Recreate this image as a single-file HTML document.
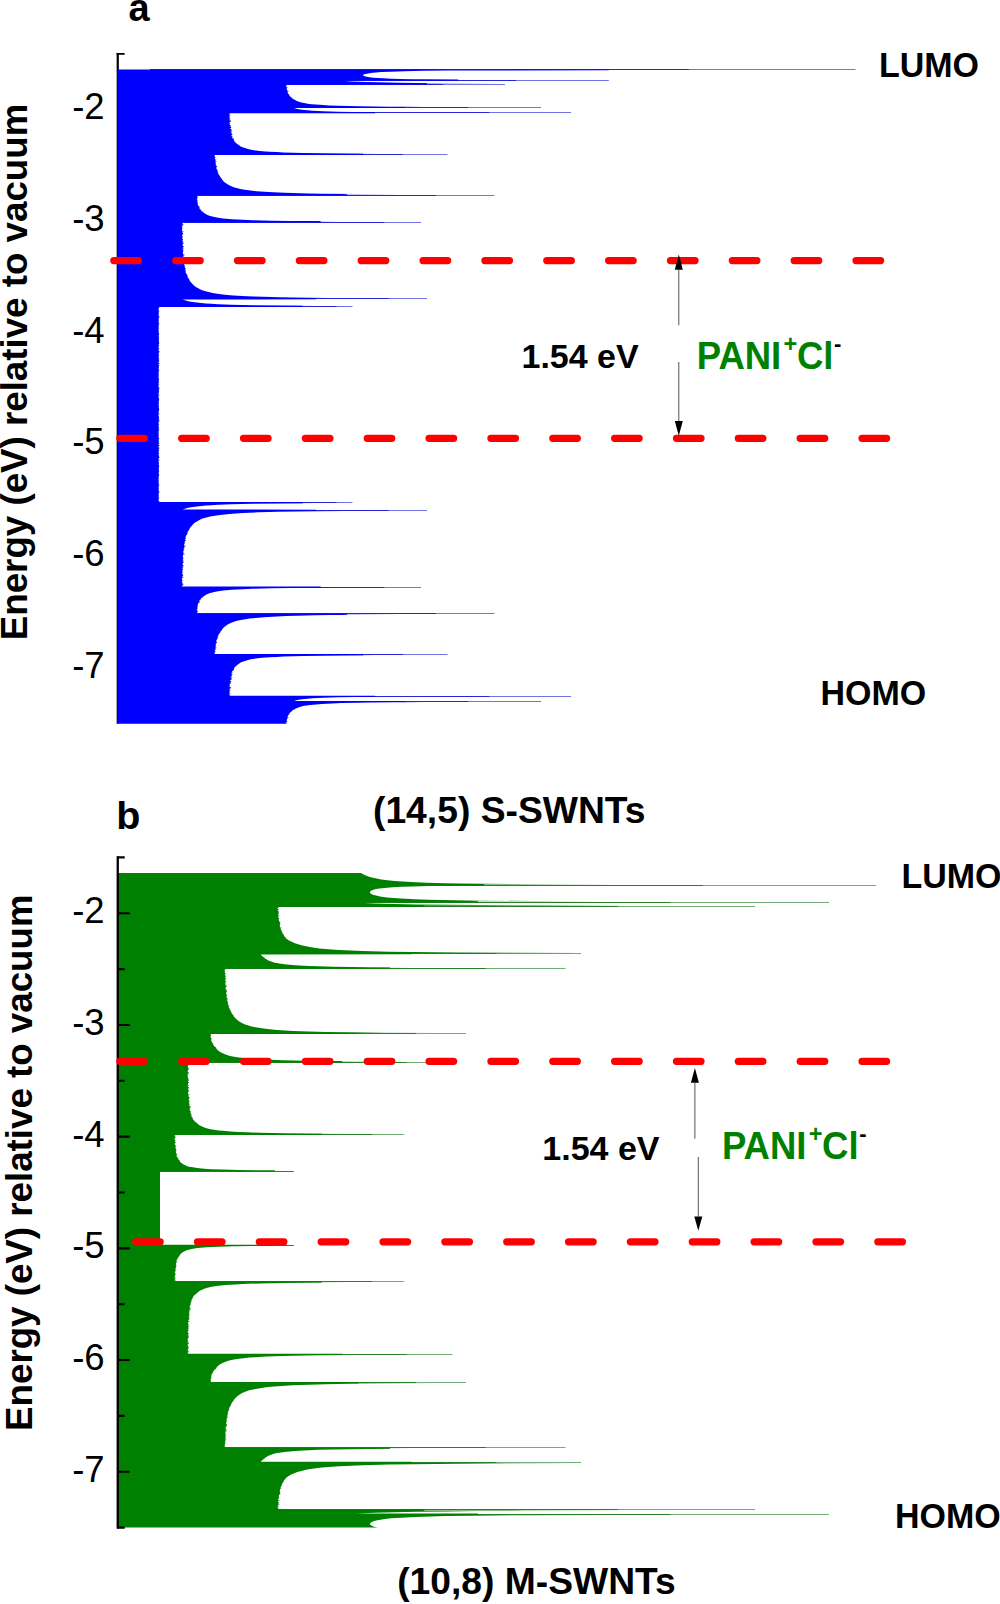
<!DOCTYPE html>
<html lang="en"><head><meta charset="utf-8"><title>DOS of SWNTs vs PANI levels</title>
<style>html,body{margin:0;padding:0;background:#fff}body{width:1000px;height:1604px;overflow:hidden}svg{display:block}</style></head>
<body>
<svg width="1000" height="1604" viewBox="0 0 1000 1604">
<rect width="1000" height="1604" fill="#fff"/>
<g id="panel-a">
<path d="M117.75 53V723.8" stroke="#000" stroke-width="2.2" fill="none"/>
<path d="M116.65 53.9H124.6" stroke="#000" stroke-width="1.8" fill="none"/>
<path d="M150 306.5H336.8M150 502.5H336.8M150 298.5H388.9M150 510.5H388.9M150 222.5H384.7M150 587.5H384.7M150 195.5H436.1M150 613.5H436.1M150 154.5H403.2M150 654.5H403.2M150 112.5H489.7M150 696.5H489.7M150 107.5H468.7M150 701.5H468.7M150 84.5H443.5M150 80.5H516.2M150 69.5H688.9" stroke="#0000d0" stroke-width="1" stroke-opacity="0.85" fill="none"/><path d="M336.8 306.5H352.5M336.8 502.5H352.5M388.9 298.5H427.0M388.9 510.5H427.0M384.7 222.5H421.0M384.7 587.5H421.0M436.1 195.5H494.5M436.1 613.5H494.5M403.2 154.5H447.5M403.2 654.5H447.5M489.7 112.5H571.0M489.7 696.5H571.0M468.7 107.5H541.0M468.7 701.5H541.0M443.5 84.5H505.0M516.2 80.5H608.8M688.9 69.5H855.5" stroke="#0000d0" stroke-width="1" stroke-opacity="0.55" fill="none"/>
<path d="M117.30 69.40L608.8 69.4L608.8 70.24L477.91 70.44L446.52 70.6L424.06 70.84L404.83 71.2L390.77 71.64L381.17 72.12L376.17 72.48L372.53 72.84L368.09 73.44L365.35 74L364.41 74.28L363.66 74.6L363.23 74.92L363.12 75.08L363.09 75.28L363.27 75.6L363.76 75.92L364.82 76.32L365.68 76.56L369.38 77.24L373.17 77.68L378.11 78.08L383.05 78.36L391.89 78.72L400.34 78.96L412.09 79.2L424 79.36L458.65 79.6L457.47 80.76L341 80.8L352.37 81.44L366.03 81.96L379.42 82.32L398.54 82.68L415.91 82.92L445.08 83.2L505 83.52L421.16 83.56L426.88 83.6L426.88 84.76L286.02 84.8L286.04 84.96L286.1 85L286.17 85.48L286.73 85.52L286.79 85.96L286.16 86L286.24 86.48L286.34 86.52L286.41 86.96L287.37 87L287.45 87.48L286.75 87.52L286.84 87.96L286.69 88L286.87 88.96L286.83 89L287.09 89.96L287.61 90L287.74 90.48L287.17 90.52L287.28 90.96L288.65 91L288.76 91.48L287.43 91.52L287.69 92.48L287.87 92.96L287.99 93L288.17 93.48L288.11 93.52L288.3 93.96L289.17 94L289.38 94.48L288.59 94.52L288.82 94.96L289.25 95L289.53 95.48L289.27 95.52L289.6 95.96L290.06 96L290.45 96.48L289.94 96.52L290.38 96.96L290.8 97L291.32 97.48L291.62 97.52L292.16 97.96L291.85 98L293.07 98.96L293.23 99L293.93 99.48L294.37 99.52L295.06 99.96L294.99 100L295.07 100.04L296.85 100.96L296.78 101L297.59 101.32L299.83 102.04L302.39 102.72L304.18 103.12L307.64 103.72L311.5 104.2L315.88 104.6L323.2 105.12L329.42 105.44L338.8 105.8L359.62 106.28L388.77 106.64L423.08 106.84L405.07 106.88L405.07 108.08L294.06 108.12L295.66 108.56L297.28 108.92L302.08 109.72L307.47 110.32L312.65 110.72L323.26 111.24L337.51 111.64L353.55 111.88L375.09 112.04L375.09 113.24L229.16 113.28L229.16 113.48L230.15 113.52L230.17 113.96L229.89 114L229.9 114.48L229.08 114.52L229.1 114.96L230.54 115L230.56 115.48L229.4 115.52L229.43 116.48L229.57 117.48L230.04 117.52L230.06 117.96L229.4 118L229.43 118.48L230.13 118.52L230.16 118.96L229.34 119L229.38 119.48L230.18 119.52L230.22 119.96L229.64 120L229.68 120.48L230.77 120.52L230.79 120.96L230.5 121L230.53 121.48L230.97 121.52L230.99 121.96L229.54 122L229.63 123.48L230.2 123.52L230.24 123.96L229.68 124L229.75 124.96L231.12 125L231.15 125.48L229.9 125.52L229.94 125.96L230.75 126L230.79 126.48L230.25 126.52L230.3 126.96L231.29 127L231.34 127.48L231.02 127.52L231.07 127.96L230.25 128L230.39 128.96L231.52 129L231.58 129.48L231.15 129.52L231.22 129.96L231.13 130L231.21 130.48L231.81 130.52L231.88 130.96L230.54 131L230.63 131.48L232.08 131.52L232.16 131.96L230.75 132L230.86 132.48L231.81 132.52L231.91 132.96L231.18 133L231.27 133.48L232.02 133.52L232.1 133.96L232.31 134L232.45 134.96L231.37 135L231.79 136.48L232.56 136.52L232.68 136.96L232.01 137L232.16 137.48L232.25 137.52L232.68 138.48L233.65 138.52L233.82 138.96L233.57 139L233.67 139.24L234.1 139.96L234.22 140L234.51 140.48L233.75 140.52L234.07 140.96L234.02 141L234.42 141.48L234.59 141.52L234.99 141.96L234.83 142L234.99 142.16L235.33 142.48L235.72 142.52L236.22 142.96L236.14 143L237.06 143.96L237.2 144L237.77 144.48L238.18 144.52L238.73 144.96L238.67 145L239.37 145.48L239.23 145.52L239.92 145.96L239.91 146L241.21 146.68L243.36 147.56L247.33 148.84L249.81 149.44L252.56 149.96L255.85 150.44L259.78 150.88L265.47 151.4L269.83 151.72L276.94 152.12L283.3 152.4L302.79 152.96L324.27 153.32L347.51 153.56L377.63 153.72L357.39 153.76L363.11 153.8L363.11 154.96L214.49 155L214.53 155.48L214.73 155.52L214.77 155.96L214.5 156L214.55 156.48L215.1 156.52L215.15 156.96L215.73 157L215.78 157.48L214.72 157.52L214.79 158.48L215.08 158.52L215.13 158.96L214.84 159L214.9 159.48L216.23 159.52L216.28 159.96L215.18 160L215.25 160.48L216.08 160.52L216.14 160.96L216.42 161L216.47 161.48L215.26 161.52L215.31 161.96L215.41 162L215.47 162.48L216.11 162.52L216.17 162.96L215.84 163L215.91 163.48L215.45 163.52L215.51 163.96L215.68 164L215.75 164.48L216.13 164.52L216.19 164.96L215.69 165L215.77 165.48L216.36 165.52L216.43 165.96L217.07 166L217.15 166.48L216.62 166.52L216.7 166.96L216.08 167L216.17 167.48L216.73 167.52L216.82 167.96L216.45 168L216.55 168.48L216.34 168.52L216.44 168.96L216.64 169L216.75 169.48L217.14 169.52L217.25 169.96L217.12 170L217.24 170.48L217.87 170.52L217.98 170.96L217.06 171L217.22 171.48L218.17 171.52L218.31 171.96L217.66 172L217.84 172.48L218.06 172.52L218.23 172.96L217.8 173L218.02 173.48L218.58 173.52L218.78 173.96L218.36 174L218.61 174.48L218.73 174.52L218.96 174.96L219.14 175L219.42 175.48L219.61 175.52L220.24 176.48L219.99 176.52L220.36 177L220.92 177.96L221.19 178L221.49 178.48L221.42 178.52L222.09 179.48L221.95 179.52L222.32 179.96L222.53 180L222.95 180.48L222.89 180.52L223.33 180.96L223.27 181L223.7 181.44L224.91 182.48L225.03 182.52L226.71 183.8L227.93 184.52L230.83 186.04L233.57 187.16L236.67 188.12L240.3 188.96L244.69 189.72L250.57 190.56L256.55 191.2L264.41 191.84L273.37 192.36L284.4 192.84L292.63 193.12L308.79 193.52L321.64 193.76L356.75 194.12L401.26 194.32L341.56 194.36L347.29 194.4L347.29 195.56L197.58 195.6L197.61 195.96L197.19 196L197.23 196.48L197.45 196.52L197.49 196.96L197.75 197L197.8 197.48L197.52 197.52L197.57 197.96L197.15 198L197.26 198.96L196.76 199L196.84 199.48L197.3 199.52L197.37 199.96L198.01 200L198.09 200.48L196.89 200.52L196.97 200.96L197.42 201L197.51 201.48L197.16 201.52L197.25 201.96L197.36 202L197.48 202.48L198.13 202.52L198.24 202.96L197.49 203L197.74 203.96L197.69 204L197.81 204.48L198.06 204.52L198.18 204.96L197.94 205L198.07 205.48L198.29 205.52L198.43 205.96L198.7 206L198.86 206.48L199.61 206.52L199.99 207.48L198.89 207.52L199.09 207.96L199.05 208L199.28 208.48L199.99 208.52L200.23 208.96L199.78 209L200.11 209.48L201.07 209.52L201.38 209.96L200.68 210L201.1 210.48L200.92 210.52L201.98 211.48L202.69 211.52L203.18 211.92L203.23 211.96L202.64 212L203.19 212.48L203.57 212.52L204.1 213L204.97 213.6L206.5 214.48L207.47 214.96L209.37 215.72L212.32 216.6L214.36 217.12L216.74 217.6L219.79 218.08L223.13 218.48L232.06 219.24L242.95 219.84L252.8 220.2L271.76 220.64L291.78 220.92L314.5 221.12L339.42 221.24L320.63 221.28L320.63 222.48L181.77 222.52L181.78 222.96L182.59 223L182.53 223.96L182.69 224L182.7 224.48L183.42 224.52L183.43 224.96L183.24 225L183.25 225.48L181.82 225.52L181.83 225.96L182.54 226L182.55 226.48L181.98 226.52L181.99 226.96L181.83 227L181.84 227.48L182.09 227.52L182.09 227.96L182.87 228L182.88 228.48L182.09 228.52L182.1 228.96L182 229L182.01 229.48L181.91 229.52L181.92 229.96L182.02 230L182.03 230.48L182.26 230.52L182.28 230.96L182.12 231L182.13 231.48L183.56 231.52L183.58 231.96L182.07 232L182.08 232.48L182.96 232.52L183.02 233.48L183.12 233.52L183.13 233.96L182.29 234L182.31 234.48L183.05 234.52L183.07 234.96L182.06 235L182.07 235.48L182.43 235.52L182.45 235.96L182.77 236L182.79 236.48L182.17 236.52L182.19 236.96L182.83 237L182.85 237.48L182.16 237.52L182.18 237.96L182.36 238L182.36 238.96L182.91 239L182.94 239.48L182.8 239.52L182.82 239.96L182.45 240L182.46 240.48L182.56 240.52L182.58 240.96L183.18 241L183.19 241.48L182.54 241.52L182.55 241.96L182.35 242L182.36 242.48L183.74 242.52L183.75 242.96L183.63 243L183.65 243.48L182.84 243.52L182.85 243.96L182.58 244L182.6 244.48L182.97 244.52L182.99 244.96L182.46 245L182.48 245.48L182.84 245.52L182.86 245.96L183.55 246L183.57 246.48L183.66 246.52L183.68 246.96L182.85 247L182.87 247.48L183.25 247.52L183.27 247.96L182.61 248L182.64 248.48L183.7 248.52L183.72 248.96L183.2 249L183.22 249.48L182.68 249.52L182.71 249.96L183.61 250L183.63 250.48L182.81 250.52L182.84 250.96L183.31 251L183.34 251.48L182.87 251.52L182.9 251.96L182.84 252L182.94 253.48L183.12 253.52L183.15 253.96L182.97 254L183 254.48L184.45 254.52L184.48 254.96L184.27 255L184.31 255.48L183.35 255.52L183.39 255.96L183.25 256L183.29 256.48L183.51 256.52L183.55 256.96L183.23 257L183.46 258.48L183.98 258.52L184.02 258.96L183.55 259L183.61 259.48L184.39 259.52L184.44 259.96L183.57 260L183.63 260.48L183.98 260.52L184.03 261.48L184.97 261.52L185.01 261.96L185.2 262L185.24 262.48L183.93 262.52L183.98 262.96L184.07 263L184.12 263.48L185.35 263.52L185.4 263.96L184.14 264L184.2 264.48L184.14 264.52L184.2 264.96L184.89 265L184.95 265.48L184.27 265.52L184.33 265.96L184.66 266L184.73 266.48L184.82 266.52L184.89 266.96L184.98 267L185.06 267.48L184.6 267.52L184.68 267.96L185.88 268L185.96 268.48L185.46 268.52L185.53 268.96L185.45 269L185.54 269.48L184.91 269.52L185 269.96L186 270L186.09 270.48L185.23 270.52L185.33 270.96L185.79 271L185.9 271.48L185.39 271.52L185.5 271.96L185.63 272L185.94 272.96L186.15 273L186.31 273.48L185.95 273.52L186.1 273.96L186.8 274L186.96 274.48L187.15 274.52L187.31 274.96L186.84 275L187.03 275.48L187.6 275.52L187.78 275.96L186.94 276L187.17 276.48L188.07 276.52L188.27 276.96L187.56 277L188.45 278.48L188.96 278.52L189.24 278.96L188.8 279L189.08 279.48L189.29 279.52L189.53 279.96L189.26 280L189.55 280.48L189.79 280.52L190.06 280.96L189.96 281L190.73 282.16L190.99 282.48L191.15 282.52L191.52 282.96L191.71 283L192.13 283.48L192.08 283.52L192.25 283.72L192.97 284.48L192.87 284.52L194.26 285.76L195.91 286.96L198.68 288.6L200.05 289.32L201.47 289.96L203.01 290.56L204.68 291.12L208.46 292.12L212.72 292.96L219.07 293.96L224.8 294.64L233.31 295.4L242.21 295.96L253.17 296.48L263.16 296.84L280.03 297.28L292.66 297.52L326.1 297.88L378.54 298.12L310.22 298.16L315.94 298.2L315.94 299.36L182.5 299.4L185.81 300.52L188.15 301.16L191.21 301.8L194.82 302.36L198.96 302.84L206.05 303.48L211.35 303.84L218.16 304.2L231.57 304.68L253.02 305.16L282.03 305.52L317.21 305.72L296.97 305.76L302.7 305.8L302.7 306.96L159.3 307L159.3 307.48L159.21 307.52L159.21 307.96L158.53 308L158.53 308.48L158.68 308.52L158.69 309.48L158.61 309.52L158.61 309.96L159.08 310L159.08 310.48L158.5 310.52L158.56 311.48L159.39 311.52L159.39 311.96L158.57 312L158.57 312.48L158.86 312.52L158.86 312.96L159.02 313L159.02 313.48L158.52 313.52L158.5 314L158.5 314.48L158.87 314.52L158.87 314.96L158.75 315L158.75 315.48L158.52 315.52L158.52 315.96L159.38 316L159.38 316.48L159.23 316.52L159.23 316.96L158.64 317L158.64 317.48L159.23 317.52L159.23 317.96L158.8 318L158.8 318.48L159.06 318.52L159.06 318.96L158.54 319L158.55 319.96L158.51 320L158.51 320.48L159.13 320.52L159.13 320.96L158.52 321L158.52 321.96L159.26 322L159.26 322.48L158.57 322.52L158.57 322.96L159.07 323L159.07 323.48L158.69 323.52L158.69 323.96L159.33 324L159.33 324.48L158.82 324.52L158.82 324.96L158.68 325L158.68 325.48L158.51 325.52L158.51 325.96L158.93 326L158.93 326.48L158.53 326.52L158.53 327.96L158.92 328L158.92 328.48L158.51 328.52L158.51 329.48L158.7 329.52L158.58 330.96L158.52 331L158.52 331.48L158.86 331.52L158.86 331.96L158.62 332L158.62 332.48L158.71 332.52L158.71 332.96L159.02 333L159.03 333.96L159.19 334L159.19 334.48L159.02 334.52L159.02 334.96L158.5 335L158.5 335.48L158.88 335.52L158.88 335.96L159.08 336L159.08 336.48L158.52 336.52L158.52 336.96L158.91 337L158.91 337.48L159.23 337.52L159.23 337.96L159.08 338L159.08 338.48L158.57 338.52L158.57 338.96L159.16 339L159.16 339.48L158.91 339.52L158.91 339.96L158.58 340L158.58 340.48L158.99 340.52L158.99 340.96L159.21 341L159.21 341.48L158.97 341.52L158.96 342.96L159.15 343L159.17 343.52L159.17 343.96L159.06 344L159.06 344.48L158.53 344.52L158.53 344.96L159.01 345L159.01 345.48L158.86 345.52L158.86 345.96L158.75 346L158.75 346.48L158.85 346.52L158.85 346.96L158.5 347L158.5 347.48L158.58 347.52L158.58 347.96L159.36 348L159.36 348.48L158.53 348.52L158.53 348.96L158.58 349L158.58 349.48L159.12 349.52L159.12 349.96L158.63 350L158.67 350.96L159.4 351L159.39 351.96L159.04 352L159.11 352.96L158.5 353L158.5 353.48L159.17 353.52L159.17 353.96L158.72 354L158.72 354.48L158.54 354.52L158.54 354.96L159.2 355L159.2 355.48L158.84 355.52L158.84 355.96L158.95 356L158.95 356.48L158.52 356.52L158.5 357.48L158.91 357.52L158.91 357.96L159.38 358L159.38 358.48L158.5 358.52L158.5 358.96L158.81 359L158.81 359.48L159.07 359.52L159.07 359.96L158.92 360L158.92 360.48L159.28 360.52L159.28 360.96L159.27 361.48L158.58 361.52L158.58 361.96L158.67 362L158.67 362.48L158.5 362.52L158.5 362.96L159.39 363L159.32 363.96L158.57 364L158.54 364.52L158.54 364.96L159.03 365L159.03 365.48L159.31 365.52L159.31 365.96L159.06 366L159.06 366.48L158.51 366.52L158.51 366.96L158.97 367L158.97 367.48L158.85 367.52L158.85 367.96L158.6 368L158.6 368.48L158.73 368.52L158.73 368.96L158.84 369L158.84 369.48L158.73 369.52L158.73 369.96L159.09 370L159.09 370.48L159.27 370.52L159.27 370.96L158.53 371L158.6 371.96L158.71 372L158.71 372.48L158.81 372.52L158.81 372.96L158.61 373L158.58 373.96L158.64 374L158.64 374.48L158.78 374.52L158.78 374.96L158.75 375.48L158.5 375.52L158.5 375.96L158.61 376L158.64 376.52L158.64 376.96L158.5 377L158.5 377.48L158.61 377.52L158.61 377.96L158.51 378L158.51 378.48L159.13 378.52L159.13 378.96L158.96 379L159.01 379.96L158.59 380L158.59 380.48L158.88 380.52L158.88 380.96L158.5 381L158.5 381.48L159.24 381.52L159.24 381.96L158.82 382L158.82 382.48L158.68 382.52L158.68 382.96L158.77 383L158.77 383.48L158.5 383.52L158.55 384.48L159.15 384.52L159.15 384.96L158.67 385L158.67 385.48L158.57 385.52L158.58 386.96L159.38 387L159.38 387.48L158.54 387.52L158.54 387.96L159.38 388L159.38 388.48L159.1 388.52L159.1 388.96L158.71 389L158.71 389.48L159.14 389.52L159.14 389.96L158.8 390L158.8 390.48L159.26 390.52L159.26 390.96L158.87 391L158.87 391.48L158.95 391.52L158.95 392.48L158.7 392.52L158.7 392.96L158.54 393L158.54 393.96L158.69 394L158.69 394.48L158.78 394.52L158.78 394.96L159.4 395L159.4 395.48L158.5 395.52L158.5 395.96L158.62 396L158.62 396.48L158.5 396.52L158.5 397.48L158.84 397.52L158.84 397.96L158.92 398L158.92 398.48L159.13 398.52L159.13 398.96L158.96 399L158.96 399.48L159.19 399.52L159.19 399.96L159.09 400L159.09 400.48L158.95 400.52L158.95 400.96L158.62 401L158.62 401.48L158.89 401.52L158.89 401.96L159.01 402L159.01 402.48L158.71 402.52L158.71 402.96L158.8 403L158.8 403.48L158.89 403.52L158.89 403.96L158.51 404L158.51 405L158.89 405.04L158.89 405.48L158.8 405.52L158.8 406L158.71 406.04L158.71 406.48L159.01 406.52L159.01 407L158.89 407.04L158.89 407.48L158.62 407.52L158.62 408L158.95 408.04L158.95 408.48L159.09 408.52L159.09 409L159.19 409.04L159.19 409.48L158.96 409.52L158.96 410L159.13 410.04L159.13 410.48L158.92 410.52L158.92 411L158.84 411.04L158.84 411.48L158.5 411.52L158.5 412.48L158.62 412.52L158.62 413L158.5 413.04L158.5 413.48L159.4 413.52L159.4 414L158.78 414.04L158.78 414.48L158.69 414.52L158.69 415L158.54 415.04L158.54 416L158.7 416.04L158.7 416.48L158.95 416.52L158.95 417.48L158.87 417.52L158.87 418L159.26 418.04L159.26 418.48L158.8 418.52L158.8 419L159.14 419.04L159.14 419.48L158.71 419.52L158.71 420L159.1 420.04L159.1 420.48L159.38 420.52L159.38 421L158.54 421.04L158.54 421.48L159.38 421.52L159.38 422L158.58 422.04L158.57 423.48L158.67 423.52L158.67 424L159.15 424.04L159.15 424.48L158.55 424.52L158.5 425.48L158.77 425.52L158.77 426L158.68 426.04L158.68 426.48L158.82 426.52L158.82 427L159.24 427.04L159.24 427.48L158.5 427.52L158.5 428L158.88 428.04L158.88 428.48L158.59 428.52L158.59 429L159.01 429.04L158.96 430L159.13 430.04L159.13 430.48L158.51 430.52L158.51 431L158.61 431.04L158.61 431.48L158.5 431.52L158.5 432L158.64 432.04L158.64 432.48L158.61 433L158.5 433.04L158.5 433.48L158.75 433.52L158.78 434.04L158.78 434.48L158.64 434.52L158.64 435L158.58 435.04L158.61 436L158.81 436.04L158.81 436.48L158.71 436.52L158.71 437L158.6 437.04L158.53 438L159.27 438.04L159.27 438.48L159.09 438.52L159.09 439L158.73 439.04L158.73 439.48L158.84 439.52L158.84 440L158.73 440.04L158.73 440.48L158.6 440.52L158.6 441L158.85 441.04L158.85 441.48L158.97 441.52L158.97 442L158.51 442.04L158.51 442.48L159.06 442.52L159.06 443L159.31 443.04L159.31 443.48L159.03 443.52L159.03 444L158.54 444.04L158.54 444.48L158.57 445L159.32 445.04L159.39 446L158.5 446.04L158.5 446.48L158.67 446.52L158.67 447L158.58 447.04L158.58 447.48L159.27 447.52L159.28 448.04L159.28 448.48L158.92 448.52L158.92 449L159.07 449.04L159.07 449.48L158.81 449.52L158.81 450L158.5 450.04L158.5 450.48L159.38 450.52L159.38 451L158.91 451.04L158.91 451.48L158.5 451.52L158.52 452.48L158.95 452.52L158.95 453L158.84 453.04L158.84 453.48L159.2 453.52L159.2 454L158.54 454.04L158.54 454.48L158.72 454.52L158.72 455L159.17 455.04L159.17 455.48L158.5 455.52L158.5 456L159.11 456.04L159.04 457L159.39 457.04L159.4 458L158.67 458.04L158.63 459L159.12 459.04L159.12 459.48L158.58 459.52L158.58 460L158.53 460.04L158.53 460.48L159.36 460.52L159.36 461L158.58 461.04L158.58 461.48L158.5 461.52L158.5 462L158.85 462.04L158.85 462.48L158.75 462.52L158.75 463L158.86 463.04L158.86 463.48L159.01 463.52L159.01 464L158.53 464.04L158.53 464.48L159.06 464.52L159.06 465L159.17 465.04L159.17 465.48L159.15 466L158.96 466.04L158.97 467.48L159.21 467.52L159.21 468L158.99 468.04L158.99 468.48L158.58 468.52L158.58 469L158.91 469.04L158.91 469.48L159.16 469.52L159.16 470L158.57 470.04L158.57 470.48L159.08 470.52L159.08 471L159.23 471.04L159.23 471.48L158.91 471.52L158.91 472L158.52 472.04L158.52 472.48L159.08 472.52L159.08 473L158.88 473.04L158.88 473.48L158.5 473.52L158.5 474L159.02 474.04L159.02 474.48L159.19 474.52L159.19 475L159.03 475.04L159.02 476L158.71 476.04L158.71 476.48L158.62 476.52L158.62 477L158.86 477.04L158.86 477.48L158.52 477.52L158.52 478L158.58 478.04L158.7 479.48L158.51 479.52L158.51 480.48L158.92 480.52L158.92 481L158.53 481.04L158.53 482.48L158.93 482.52L158.93 483L158.51 483.04L158.51 483.48L158.68 483.52L158.68 484L158.82 484.04L158.82 484.48L159.33 484.52L159.33 485L158.69 485.04L158.69 485.48L159.07 485.52L159.07 486L158.57 486.04L158.57 486.48L159.26 486.52L159.26 487L158.52 487.04L158.52 488L159.13 488.04L159.13 488.48L158.51 488.52L158.51 489L158.55 489.04L158.54 490L159.06 490.04L159.06 490.48L158.8 490.52L158.8 491L159.23 491.04L159.23 491.48L158.64 491.52L158.64 492L159.23 492.04L159.23 492.48L159.38 492.52L159.38 493L158.52 493.04L158.52 493.48L158.75 493.52L158.75 494L158.87 494.04L158.87 494.48L158.5 494.52L158.5 495L158.52 495.48L159.02 495.52L159.02 496L158.86 496.04L158.86 496.48L158.57 496.52L158.57 497L159.39 497.04L159.39 497.48L158.56 497.52L158.5 498.48L159.08 498.52L159.08 499L158.61 499.04L158.61 499.48L158.69 499.52L158.68 500.48L158.53 500.52L158.53 501L159.21 501.04L159.21 501.48L159.3 501.52L159.3 502L302.7 502.04L302.7 503.2L296.97 503.24L317.21 503.28L282.03 503.48L253.02 503.84L231.57 504.32L218.16 504.8L211.35 505.16L206.05 505.52L198.96 506.16L194.82 506.64L191.21 507.2L188.15 507.84L185.81 508.48L182.5 509.6L315.94 509.64L315.94 510.8L310.22 510.84L378.54 510.88L346.36 511L316.11 511.2L295.27 511.44L278.32 511.76L258.3 512.32L242.99 513L232.27 513.68L222.22 514.64L218.23 515.16L213.2 515.96L210.54 516.44L208.11 516.96L205.49 517.64L203.35 518.32L201.28 519.12L199.42 520L196.56 521.64L195.43 522.36L194.11 523.36L192.87 524.48L192.97 524.52L192.25 525.28L192.08 525.48L192.13 525.52L191.71 526L191.52 526.04L191.15 526.48L190.99 526.52L190.82 526.72L189.96 528L190.06 528.04L189.79 528.48L189.55 528.52L189.35 528.84L189.26 529L189.53 529.04L189.29 529.48L189.08 529.52L188.8 530L189.24 530.04L188.96 530.48L188.45 530.52L187.56 532L188.27 532.04L188.07 532.48L187.17 532.52L186.94 533L187.78 533.04L187.6 533.48L187.03 533.52L186.84 534L187.31 534.04L187.15 534.48L186.96 534.52L186.8 535L186.1 535.04L185.95 535.48L186.31 535.52L186.15 536L185.94 536.04L185.63 537L185.5 537.04L185.39 537.48L185.9 537.52L185.79 538L185.33 538.04L185.23 538.48L186.09 538.52L186 539L185 539.04L184.91 539.48L185.54 539.52L185.45 540L185.53 540.04L185.46 540.48L185.96 540.52L185.88 541L184.68 541.04L184.6 541.48L185.06 541.52L184.98 542L184.89 542.04L184.82 542.48L184.73 542.52L184.66 543L184.33 543.04L184.27 543.48L184.95 543.52L184.89 544L184.2 544.04L184.14 544.48L184.2 544.52L184.14 545L185.4 545.04L185.35 545.48L184.12 545.52L184.07 546L183.98 546.04L183.93 546.48L185.24 546.52L185.2 547L185.01 547.04L184.97 547.48L184.03 547.52L183.98 548.48L183.63 548.52L183.57 549L184.44 549.04L184.39 549.48L183.61 549.52L183.55 550L184.02 550.04L183.98 550.48L183.46 550.52L183.23 551.96L183.55 552.04L183.51 552.48L183.29 552.52L183.25 553L183.39 553.04L183.35 553.48L184.31 553.52L184.27 554L184.48 554.04L184.45 554.48L183 554.52L182.97 555L183.15 555.04L183.12 555.48L182.94 555.52L182.84 557L182.9 557.04L182.87 557.48L183.34 557.52L183.31 558L182.84 558.04L182.81 558.48L183.63 558.52L183.61 559L182.71 559.04L182.68 559.48L183.22 559.52L183.2 560L183.72 560.04L183.7 560.48L182.64 560.52L182.61 561L183.27 561.04L183.25 561.48L182.87 561.52L182.85 562L183.68 562.04L183.66 562.48L183.57 562.52L183.55 563L182.86 563.04L182.84 563.48L182.48 563.52L182.46 564L182.99 564.04L182.97 564.48L182.6 564.52L182.58 565L182.85 565.04L182.84 565.48L183.65 565.52L183.63 566L183.75 566.04L183.74 566.48L182.36 566.52L182.35 567L182.55 567.04L182.54 567.48L183.19 567.52L183.18 568L182.58 568.04L182.56 568.48L182.46 568.52L182.45 569L182.82 569.04L182.8 569.48L182.94 569.52L182.91 570L182.36 570.04L182.36 571L182.18 571.04L182.16 571.48L182.85 571.52L182.83 572L182.19 572.04L182.17 572.48L182.79 572.52L182.77 573L182.45 573.04L182.43 573.48L182.07 573.52L182.06 574L183.07 574.04L183.05 574.48L182.31 574.52L182.29 575L183.13 575.04L183.12 575.48L183.02 575.52L182.96 576.48L182.08 576.52L182.07 577L183.58 577.04L183.56 577.48L182.13 577.52L182.12 578L182.28 578.04L182.26 578.48L182.03 578.52L182.02 579L181.92 579.04L181.91 579.48L182.01 579.52L182 580L182.1 580.04L182.09 580.48L182.88 580.52L182.87 581L182.09 581.04L182.09 581.48L181.84 581.52L181.83 582L181.99 582.04L181.98 582.48L182.55 582.52L182.54 583L181.83 583.04L181.82 583.48L183.25 583.52L183.24 584L183.43 584.04L183.42 584.48L182.7 584.52L182.69 585L182.53 585.04L182.59 586L181.78 586.04L181.77 586.48L320.63 586.52L320.63 587.72L339.42 587.76L314.5 587.88L291.78 588.08L271.76 588.36L252.8 588.8L242.95 589.16L232.06 589.76L223.13 590.52L219.79 590.92L216.74 591.4L214.36 591.88L212.32 592.4L209.37 593.28L207.47 594.04L206.5 594.52L204.97 595.4L204.1 596L203.57 596.48L203.19 596.52L202.64 597L203.23 597.04L203.18 597.08L202.69 597.48L201.98 597.52L200.92 598.48L201.1 598.52L200.68 599L201.38 599.04L201.07 599.48L200.11 599.52L199.78 600L200.23 600.04L199.99 600.48L199.28 600.52L199.05 601L199.09 601.04L198.89 601.48L199.99 601.52L199.61 602.48L198.86 602.52L198.7 603L198.43 603.04L198.29 603.48L198.07 603.52L197.94 604L198.18 604.04L198.06 604.48L197.81 604.52L197.69 605L197.74 605.04L197.49 606L198.24 606.04L198.13 606.48L197.48 606.52L197.36 607L197.25 607.04L197.16 607.48L197.51 607.52L197.42 608L196.97 608.04L196.89 608.48L198.09 608.52L198.01 609L197.37 609.04L197.3 609.48L196.84 609.52L196.76 610L197.26 610.04L197.15 611L197.57 611.04L197.52 611.48L197.8 611.52L197.75 612L197.49 612.04L197.45 612.48L197.23 612.52L197.19 613L197.61 613.04L197.58 613.4L347.29 613.44L347.29 614.6L341.56 614.64L401.26 614.68L351.11 614.92L330.35 615.12L314.61 615.36L296.98 615.76L286.52 616.08L272.55 616.68L263.84 617.2L255.69 617.88L249.64 618.56L242.22 619.68L239.53 620.2L237.13 620.76L235.27 621.28L233.46 621.88L231.82 622.52L230.26 623.24L227.72 624.6L226.58 625.28L225.03 626.48L224.91 626.52L223.86 627.48L223.74 627.52L223.27 628L223.33 628.04L222.89 628.48L222.95 628.52L222.53 629L222.32 629.04L221.95 629.48L222.09 629.52L221.42 630.48L221.49 630.52L221.19 631L220.92 631.04L220.36 632L219.99 632.48L220.24 632.52L219.61 633.48L219.42 633.52L219.14 634L218.96 634.04L218.73 634.48L218.61 634.52L218.36 635L218.78 635.04L218.58 635.48L218.02 635.52L217.8 636L218.23 636.04L218.06 636.48L217.84 636.52L217.66 637L218.31 637.04L218.17 637.48L217.22 637.52L217.18 637.64L217.06 638L217.98 638.04L217.87 638.48L217.24 638.52L217.12 639L217.25 639.04L217.14 639.48L216.75 639.52L216.64 640L216.44 640.04L216.34 640.48L216.55 640.52L216.45 641L216.82 641.04L216.73 641.48L216.17 641.52L216.08 642L216.7 642.04L216.62 642.48L217.15 642.52L217.07 643L216.43 643.04L216.36 643.48L215.77 643.52L215.69 644L216.19 644.04L216.13 644.48L215.75 644.52L215.68 645L215.51 645.04L215.45 645.48L215.91 645.52L215.84 646L216.17 646.04L216.11 646.48L215.47 646.52L215.41 647L215.31 647.04L215.26 647.48L216.47 647.52L216.42 648L216.14 648.04L216.08 648.48L215.25 648.52L215.18 649L216.28 649.04L216.23 649.48L214.9 649.52L214.84 650L215.13 650.04L215.08 650.48L214.79 650.52L214.72 651.48L215.78 651.52L215.73 652L215.15 652.04L215.1 652.48L214.55 652.52L214.5 653L214.77 653.04L214.73 653.48L214.53 653.52L214.49 654L363.11 654.04L363.11 655.2L357.39 655.24L377.63 655.28L347.51 655.44L324.27 655.68L302.79 656.04L283.3 656.6L276.94 656.88L269.83 657.28L265.47 657.6L259.78 658.12L255.85 658.56L252.56 659.04L249.81 659.56L247.33 660.16L243.36 661.44L241.21 662.32L239.91 663L239.92 663.04L239.23 663.48L239.37 663.52L238.67 664L238.73 664.04L238.18 664.48L237.77 664.52L237.2 665L237.06 665.04L236.14 666L236.22 666.04L235.72 666.48L235.33 666.52L234.99 666.84L234.83 667L234.99 667.04L234.59 667.48L234.42 667.52L234.02 668L234.07 668.04L233.75 668.48L234.51 668.52L234.22 669L234.1 669.04L233.67 669.76L233.57 670L233.82 670.04L233.65 670.48L232.68 670.52L232.25 671.48L232.16 671.52L232.01 672L232.68 672.04L232.56 672.48L231.79 672.52L231.37 674L232.45 674.04L232.31 675L232.1 675.04L232.02 675.48L231.27 675.52L231.18 676L231.91 676.04L231.81 676.48L230.86 676.52L230.75 677L232.16 677.04L232.08 677.48L230.63 677.52L230.54 678L231.88 678.04L231.81 678.48L231.21 678.52L231.13 679L231.22 679.04L231.15 679.48L231.58 679.52L231.52 680L230.39 680.04L230.25 681L231.07 681.04L231.02 681.48L231.34 681.52L231.29 682L230.3 682.04L230.25 682.48L230.79 682.52L230.75 683L229.94 683.04L229.9 683.48L231.15 683.52L231.12 684L229.75 684.04L229.68 685L230.24 685.04L230.2 685.48L229.63 685.52L229.54 687L230.99 687.04L230.97 687.48L230.53 687.52L230.5 688L230.79 688.04L230.77 688.48L229.68 688.52L229.64 689L230.22 689.04L230.18 689.48L229.38 689.52L229.34 690L230.16 690.04L230.13 690.48L229.43 690.52L229.4 691L230.06 691.04L230.04 691.48L229.57 691.52L229.43 692.52L229.4 693.48L230.56 693.52L230.54 694L229.1 694.04L229.08 694.48L229.9 694.52L229.89 695L230.17 695.04L230.15 695.48L229.16 695.52L229.16 695.72L375.09 695.76L375.09 696.96L353.55 697.12L337.51 697.36L323.26 697.76L312.65 698.28L307.47 698.68L302.08 699.28L297.28 700.08L295.66 700.44L294.06 700.88L405.07 700.92L405.07 702.12L423.08 702.16L393.61 702.32L370.55 702.56L357.41 702.76L341.5 703.12L332.21 703.44L321.92 703.96L313.1 704.64L309.74 705L306.85 705.4L304.37 705.84L302.23 706.32L299 707.2L297.07 707.88L294.99 709L295.06 709.04L294.37 709.48L293.93 709.52L293.23 710L293.07 710.04L291.85 711L292.16 711.04L291.62 711.48L291.32 711.52L290.8 712L290.38 712.04L289.94 712.48L290.45 712.52L290.06 713L289.6 713.04L289.27 713.48L289.53 713.52L289.25 714L288.82 714.04L288.59 714.48L289.38 714.52L289.17 715L288.3 715.04L288.11 715.48L288.17 715.52L287.99 716L287.87 716.04L287.69 716.52L287.43 717.48L288.76 717.52L288.65 718L287.28 718.04L287.17 718.48L287.74 718.52L287.61 719L287.09 719.04L286.83 720L286.87 720.04L286.69 721L286.84 721.04L286.75 721.48L287.45 721.52L287.37 722L286.41 722.04L286.34 722.48L286.24 722.52L286.16 723L286.79 723.04L286.73 723.48L286.17 723.52L286.13 723.8L117.30 723.80Z" fill="#0000ff"/>
</g>
<g id="panel-b">
<path d="M150 1171.5H293.8M150 1245.5H293.8M150 1134.5H372.6M150 1281.5H372.6M150 1062.5H406.8M150 1354.5H406.8M150 1033.5H416.2M150 1382.5H416.2M150 968.5H485.9M150 1447.5H485.9M150 953.5H496.7M150 1462.5H496.7M150 906.5H618.5M150 1509.5H618.5M150 902.5H670.3M150 1514.5H670.3M150 885.5H703.2" stroke="#006a00" stroke-width="1" stroke-opacity="0.85" fill="none"/><path d="M293.8 1171.5H293.8M293.8 1245.5H293.8M372.6 1134.5H403.8M372.6 1281.5H403.8M406.8 1062.5H452.5M406.8 1354.5H452.5M416.2 1033.5H466.0M416.2 1382.5H466.0M485.9 968.5H565.5M485.9 1447.5H565.5M496.7 953.5H581.0M496.7 1462.5H581.0M618.5 906.5H755.0M618.5 1509.5H755.0M670.3 902.5H829.0M670.3 1514.5H829.0M703.2 885.5H876.0" stroke="#006a00" stroke-width="1" stroke-opacity="0.55" fill="none"/>
<path d="M118.00 873.00L360.8 873L362.45 873.8L363.96 874.64L365.34 875.28L367.06 875.96L369.87 876.92L371.96 877.52L374.3 878.08L381.22 879.4L387.45 880.28L394.75 881L402.77 881.56L415.87 882.24L427.45 882.68L444.9 883.16L459.65 883.44L484.72 883.8L544.07 884.28L614.64 884.52L478.23 884.56L483.96 884.6L483.96 885.76L442.5 885.8L428.05 886.04L411.97 886.44L402 886.8L392.85 887.28L387 887.72L379.89 888.44L375.85 889.08L374.45 889.4L373.23 889.76L371.89 890.36L370.45 891.32L369.99 891.8L369.87 892.08L369.86 892.36L369.96 892.64L370.16 892.92L371.08 893.76L372.28 894.4L373.61 894.88L375.18 895.32L379.02 896.24L381.54 896.72L387.16 897.48L393.77 898.08L401.17 898.56L414.72 899.24L428.95 899.72L441.79 900.04L480.44 900.64L535.15 901.08L604.43 901.32L472.48 901.36L478.18 901.4L477.77 902.56L354.4 902.6L374.64 903.44L395.1 904L416.06 904.4L447.19 904.8L479.11 905.08L525.77 905.36L629.86 905.64L424.25 905.68L424.25 906.88L277.69 906.92L278.71 907L278.73 907.48L278.34 907.52L278.36 907.96L277.54 908L277.58 908.96L278.34 909L278.36 909.48L278.77 909.52L278.79 909.96L277.68 910L277.7 910.48L277.89 910.52L277.92 910.96L278.11 911L278.14 911.48L279.29 911.52L279.32 911.96L278.69 912L278.72 912.48L278.43 912.52L278.46 913.48L279.05 913.52L279.09 913.96L278.32 914L278.36 914.48L278.04 914.52L278.09 914.96L278.18 915L278.23 915.48L279.55 915.52L279.6 915.96L278.43 916L278.49 916.48L278.21 916.52L278.34 917.48L278.75 917.52L278.82 917.96L278.72 918L278.8 918.48L279.11 918.52L279.19 918.96L278.61 919L278.86 919.96L279.02 920L279.08 920.48L278.88 920.52L279.02 921.48L279.54 921.52L279.6 921.96L280.19 922L280.25 922.48L280.45 922.52L280.51 922.96L279.97 923L280.05 923.48L279.97 923.52L280.04 923.96L280.42 924L280.5 924.48L279.61 924.52L279.69 924.96L279.87 925L279.97 925.48L279.83 925.52L279.93 925.96L279.79 926L279.9 926.48L279.97 926.52L280.18 927.48L281.32 927.52L281.43 927.96L280.73 928L280.87 928.48L280.53 928.52L280.67 928.96L280.63 929L280.8 929.48L281.19 929.52L281.34 929.96L281.01 930L281.2 930.48L281.76 930.52L281.94 930.96L281.87 931L282.08 931.48L281.63 931.52L281.85 931.96L282.12 932L282.33 932.4L282.36 932.48L282.31 932.52L282.49 932.96L282.36 933L282.79 933.96L283.74 934L283.96 934.48L283.12 934.52L283.36 934.96L283.9 935L284.17 935.48L283.65 935.52L283.93 935.96L284.15 936L284.48 936.48L284.63 936.52L284.94 936.96L285.16 937L285.52 937.48L285.81 937.52L286.15 937.96L285.65 938L286.11 938.48L286.06 938.52L286.57 938.96L286.89 939L288.2 939.96L288.05 940L288.84 940.48L289.12 940.52L290.03 941.12L294.97 943.24L297.38 944.12L301.5 945.32L304.85 946.12L308.66 946.84L314.08 947.68L319.45 948.4L325.28 949L331.84 949.52L339.76 950L362.54 950.96L388.78 951.64L413.23 952.04L458.2 952.52L508.83 952.84L581 953.12L405.83 953.16L411.56 953.2L411.56 954.36L261.6 954.4L261.65 954.48L260.84 954.52L261.18 954.96L261.08 955L261.51 955.48L261.67 955.52L262.11 955.96L262.29 956L262.82 956.48L262.74 956.52L263.24 956.96L263.51 957L264 957.48L264.2 957.52L264.68 957.96L264.64 958L265.25 958.48L265.02 958.52L265.7 958.96L266.18 959L266.89 959.48L266.64 959.52L267.42 959.96L268.48 960.48L270.49 961.28L273.17 962.16L274.85 962.64L276.88 963.12L279.15 963.56L284.53 964.32L292.03 965.04L299.32 965.56L308.91 966.04L318.13 966.36L334.19 966.76L369.14 967.24L411.69 967.48L386.94 967.52L389.89 967.56L389.89 968.72L225.44 968.76L225.52 969.48L224.64 969.52L224.77 970.96L224.97 971L224.99 971.48L224.87 971.52L224.88 971.96L224.75 972L224.77 972.48L225.05 972.52L225.07 972.96L226.18 973L226.19 973.48L224.9 973.52L225.01 974.48L225.21 974.52L225.22 974.96L224.89 975L224.9 975.48L225.7 975.52L225.72 975.96L225.39 976L225.41 976.48L226.25 976.52L226.27 976.96L225.32 977L225.34 977.48L225.11 977.52L225.13 977.96L226.34 978L226.36 978.48L225.65 978.52L225.67 978.96L225.23 979L225.25 979.48L225.55 979.52L225.6 980.48L225.52 980.52L225.54 980.96L226.6 981L226.62 981.48L225.12 981.52L225.15 981.96L225.73 982L225.76 982.48L225.32 982.52L225.46 983.48L225.41 983.52L225.44 983.96L225.33 984L225.36 984.48L225.76 984.52L225.79 984.96L226.58 985L226.61 985.48L225.39 985.52L225.42 985.96L226.58 986L226.61 986.48L226.37 986.52L226.41 986.96L225.55 987L225.59 987.48L225.82 987.52L225.85 987.96L225.6 988L225.71 989.48L226.76 989.52L226.8 989.96L226.2 990L226.25 990.48L226.56 990.52L226.6 990.96L226.94 991L226.99 991.48L226.91 991.52L226.96 991.96L226.55 992L226.61 992.48L226.05 992.52L226.23 993.96L226.66 994L226.7 994.48L226.32 994.52L226.36 994.96L227.1 995L227.15 995.48L226.59 995.52L226.64 995.96L226.44 996L226.45 996.08L226.49 996.48L226.69 996.52L226.74 996.96L226.55 997L226.62 997.48L226.86 997.52L226.92 997.96L226.69 998L226.75 998.48L227.96 998.52L228.01 998.96L227.37 999L227.43 999.48L227.27 999.52L227.33 999.96L226.99 1000L227.07 1000.48L227.38 1000.52L227.45 1000.96L227.72 1001L227.8 1001.48L227.36 1001.52L227.44 1001.96L227.85 1002L227.94 1002.48L227.86 1002.52L228.1 1003.48L227.64 1003.52L227.89 1004.48L228.6 1004.52L228.7 1004.96L227.97 1005L228.11 1005.48L229.19 1005.52L229.31 1005.96L228.32 1006L228.47 1006.48L229.41 1006.52L229.55 1006.96L228.64 1007L228.81 1007.48L229.06 1007.52L229.22 1007.96L229.73 1008L229.91 1008.48L229.18 1008.52L229.22 1008.6L229.67 1009.48L230.08 1009.52L230.28 1009.96L230.02 1010L230.26 1010.48L230.81 1010.52L231.03 1010.96L230.54 1011L231.19 1011.96L231.36 1012L231.49 1012.2L231.62 1012.48L231.3 1012.52L232.09 1013.96L232.23 1014L232.52 1014.48L232.85 1014.52L233.12 1014.96L233.04 1015L233.36 1015.48L233.55 1015.52L233.85 1015.96L233.52 1016L234.41 1017L235.08 1017.88L235.16 1017.96L235.42 1018L235.84 1018.48L235.69 1018.52L236.51 1019.28L236.73 1019.48L236.88 1019.52L237.68 1020.24L238.57 1020.88L241.01 1022.44L242.26 1023.16L243.62 1023.84L245.1 1024.48L248.32 1025.6L251.65 1026.48L255.56 1027.28L261.71 1028.32L267.73 1029.08L274.22 1029.72L281.11 1030.24L292.75 1030.88L300.85 1031.24L325.63 1031.96L350.17 1032.36L384.05 1032.64L436.93 1032.84L358.3 1032.88L358.3 1034.08L210.39 1034.12L210.44 1034.48L211.1 1034.52L211.16 1034.96L210.78 1035L210.85 1035.48L211.16 1035.52L211.22 1035.96L210.43 1036L210.79 1037.48L210.94 1037.52L211.02 1037.96L211.92 1038L212.01 1038.48L210.82 1038.52L210.92 1038.96L211.45 1039L211.56 1039.48L211.02 1039.52L211.43 1040.96L211.52 1041L211.67 1041.48L211.63 1041.52L211.97 1042.48L212.13 1042.52L212.32 1042.96L213.15 1043L213.36 1043.48L212.44 1043.52L212.67 1043.96L212.79 1044L213.06 1044.48L213.27 1044.52L213.53 1044.96L213.35 1045L214 1045.96L214.28 1046L214.66 1046.48L214.57 1046.52L214.95 1046.96L215.48 1047L215.84 1047.48L215.94 1047.52L216.25 1047.96L215.78 1048L216.18 1048.48L216.63 1048.52L217 1048.96L216.6 1049L217.61 1050L219.4 1051.4L221.07 1052.44L222.59 1053.2L225.67 1054.52L227.75 1055.24L230.21 1055.92L232.76 1056.48L235.72 1057L239.14 1057.48L245.3 1058.2L249.68 1058.6L255.18 1059L266.3 1059.6L282.28 1060.16L304.66 1060.64L321.89 1060.88L346.42 1061.08L383.99 1061.24L342.19 1061.28L342.19 1062.48L187.71 1062.52L187.71 1062.96L188.67 1063L188.67 1063.48L188.09 1063.52L188.09 1063.96L187.62 1064L187.62 1064.48L188.89 1064.52L188.89 1064.96L188.41 1065L188.46 1065.04L188.46 1065.48L188.27 1065.52L188.27 1065.96L187.75 1066L187.75 1066.48L187.91 1066.52L187.87 1067.48L188.79 1067.52L188.79 1067.96L188.84 1068L188.84 1068.48L187.9 1068.52L187.91 1068.96L189 1069L189 1069.48L188.11 1069.52L188.11 1069.96L187.62 1070L187.63 1070.48L188.11 1070.52L188.11 1070.96L188.21 1071L188.22 1071.48L187.62 1071.52L187.62 1071.96L188.2 1072L188.2 1072.48L188.83 1072.52L188.83 1072.96L189 1073L189.01 1073.48L187.6 1073.52L187.6 1074.48L188.62 1074.52L188.62 1074.96L187.65 1075L187.61 1075.96L187.92 1076L187.93 1076.48L187.68 1076.52L187.69 1076.96L187.83 1077L187.91 1077.96L188.18 1078L188.18 1078.48L188.64 1078.52L188.65 1078.96L189.03 1079L189.03 1079.48L187.99 1079.52L188 1079.96L189.17 1080L189.17 1080.48L188.24 1080.52L188.25 1080.96L187.74 1081L187.75 1081.48L187.92 1081.52L187.93 1081.96L189.12 1082L189.12 1082.48L188.68 1082.52L188.68 1082.96L187.93 1083L187.94 1083.48L188.18 1083.52L188.19 1083.96L187.77 1084L187.78 1084.44L188.03 1084.52L188.04 1084.96L187.85 1085L187.86 1085.48L188.99 1085.52L189 1085.96L187.83 1086L187.86 1086.96L189.01 1087L189.02 1087.48L188.54 1087.52L188.56 1087.96L187.88 1088L187.89 1088.48L188.74 1088.52L188.75 1088.96L188.22 1089L188.24 1089.48L188.64 1089.52L188.66 1089.96L189.37 1090L189.39 1090.48L188.1 1090.52L188.12 1090.96L188.24 1091L188.27 1091.48L188.94 1091.52L188.96 1091.96L188 1092L188.03 1092.48L188.14 1092.52L188.17 1092.96L188.09 1093L188.1 1093.52L188.2 1094.48L189.73 1094.52L189.77 1094.96L188.77 1095L188.81 1095.48L188.27 1095.52L188.29 1095.96L188.4 1096L188.43 1096.48L188.94 1096.52L188.96 1096.96L189.69 1097L189.71 1097.48L189.01 1097.52L189.03 1097.96L188.96 1098L188.99 1098.48L189.7 1098.52L189.72 1098.96L188.44 1099L188.47 1099.48L188.88 1099.52L188.91 1099.96L188.72 1100L188.76 1100.48L189.72 1100.52L189.75 1100.96L189.41 1101L189.45 1101.48L188.91 1101.52L188.95 1101.96L189.71 1102L189.75 1102.48L188.81 1102.52L188.85 1102.96L189.5 1103L189.55 1103.48L188.89 1103.52L188.94 1103.96L189.51 1104L189.56 1104.48L189.4 1104.52L189.45 1104.96L189.27 1105L189.32 1105.48L189.12 1105.52L189.16 1105.84L189.18 1105.96L190.19 1106L190.25 1106.48L190.57 1106.52L190.63 1106.96L189.6 1107L189.67 1107.48L190.77 1107.52L190.84 1107.96L189.53 1108L189.61 1108.48L190.39 1108.52L190.47 1108.96L189.7 1109L189.8 1109.48L189.72 1109.52L189.88 1110.48L190 1110.96L190.6 1111L190.72 1111.96L190.44 1112L190.54 1112.48L190.69 1112.96L190.77 1113L190.88 1113.48L190.56 1113.52L190.67 1113.96L191.37 1114L191.62 1114.96L190.88 1115L191.03 1115.48L191.52 1115.52L191.67 1115.96L191.22 1116L191.39 1116.48L191.86 1116.52L192.02 1116.96L192.21 1117L192.6 1117.96L192.72 1118L192.98 1118.48L192.49 1118.52L192.77 1118.96L192.71 1119L193.02 1119.44L193.22 1119.52L193.56 1119.96L193.67 1120L194.07 1120.48L193.91 1120.52L194.87 1121.48L195.17 1121.52L195.54 1121.96L195.4 1122L195.85 1122.48L196.41 1122.52L197.33 1123.48L197.28 1123.52L198.57 1124.48L198.3 1124.52L199.91 1125.52L201.52 1126.32L204.87 1127.64L207.4 1128.44L210.58 1129.2L214.21 1129.84L218.48 1130.4L225.47 1131.12L230.64 1131.52L238.71 1132L247.15 1132.36L259.93 1132.76L284.44 1133.24L309.48 1133.52L347.21 1133.72L316.19 1133.76L321.92 1133.8L321.92 1134.96L174.43 1135L174.45 1135.48L175.58 1135.52L175.61 1135.96L175.39 1136L175.41 1136.48L175.11 1136.52L175.14 1136.96L174.51 1137L174.52 1137.48L175.84 1137.52L175.85 1137.96L174.54 1138L174.56 1138.48L175.31 1138.52L175.32 1138.96L174.73 1139L174.75 1139.48L174.63 1139.52L174.65 1139.96L175.49 1140L175.51 1140.48L175.05 1140.52L175.07 1140.96L174.87 1141L174.9 1141.48L175.13 1141.52L175.16 1141.96L175.71 1142L175.69 1142.96L174.82 1143L174.85 1143.48L174.94 1143.52L174.97 1143.96L174.99 1144.48L174.88 1144.52L174.91 1144.96L176 1145L176.03 1145.48L175.38 1145.52L175.41 1145.96L176.23 1146L176.27 1146.48L175.14 1146.52L175.26 1147.48L176.02 1147.52L176.07 1147.96L175.41 1148L175.47 1148.48L176.16 1148.52L176.23 1149.48L176.04 1149.52L176.09 1149.96L175.87 1150L175.92 1150.48L176.52 1150.52L176.57 1150.96L176.15 1151L176.22 1151.48L175.79 1151.52L175.86 1151.96L176.07 1152L176.14 1152.48L175.9 1152.52L175.98 1152.96L176.42 1153L176.51 1153.48L176.11 1153.52L176.2 1153.96L177.38 1154L177.47 1154.48L176.75 1154.52L176.85 1154.96L176.39 1155L176.72 1155.96L176.64 1156L176.81 1156.48L177.05 1156.52L177.22 1156.96L177.17 1157L177.38 1157.48L177.57 1157.52L177.79 1157.96L178.4 1158L178.64 1158.48L177.75 1158.52L178.39 1159.48L178.75 1159.52L178.99 1159.96L179.63 1160L179.91 1160.48L179.23 1160.52L180 1161.48L179.84 1161.52L180.26 1161.96L180.45 1162L180.91 1162.48L180.81 1162.52L180.98 1162.68L181.3 1162.96L181.71 1163L182.29 1163.48L182.03 1163.52L182.38 1163.76L184.4 1164.92L184.87 1165L185.92 1165.56L187.42 1166.16L189.05 1166.64L191.24 1167.12L197.19 1168.04L204.24 1168.72L211.6 1169.16L222.74 1169.6L238.4 1169.96L255.15 1170.16L274.87 1170.28L274.87 1171.48L160 1171.52L160 1244.68L274.87 1244.72L274.87 1245.92L250.76 1246.08L234.11 1246.32L219.06 1246.72L207.13 1247.28L200.53 1247.8L195.69 1248.36L190.64 1249.2L188.59 1249.68L187.2 1250.12L185.83 1250.68L184.94 1251.16L184.55 1251.2L184.25 1251.36L182.32 1252.48L182.03 1252.68L182.29 1252.72L181.75 1253.16L181.34 1253.2L180.93 1253.56L180.81 1253.68L180.91 1253.72L180.49 1254.16L180.3 1254.2L179.84 1254.68L180 1254.72L179.23 1255.68L179.91 1255.72L179.65 1256.16L179.02 1256.2L178.75 1256.68L178.39 1256.72L177.75 1257.68L178.64 1257.72L178.42 1258.16L177.81 1258.2L177.57 1258.68L177.38 1258.72L177.18 1259.16L177.24 1259.2L177.05 1259.68L176.81 1259.72L176.65 1260.16L176.74 1260.2L176.4 1261.16L176.86 1261.2L176.75 1261.68L177.47 1261.72L177.39 1262.16L176.21 1262.2L176.11 1262.68L176.51 1262.72L176.43 1263.16L175.99 1263.2L175.9 1263.68L176.14 1263.72L176.08 1264.16L175.86 1264.2L175.79 1264.68L176.22 1264.72L176.16 1265.16L176.58 1265.2L176.52 1265.68L175.92 1265.72L175.87 1266.16L176.09 1266.2L176.04 1266.68L176.23 1266.72L176.16 1267.68L175.47 1267.72L175.41 1268.16L176.08 1268.2L176.02 1268.68L175.26 1268.72L175.14 1269.68L176.27 1269.72L176.23 1270.16L175.42 1270.2L175.38 1270.68L176.03 1270.72L176 1271.16L174.91 1271.2L174.88 1271.68L174.99 1271.72L174.98 1272.2L174.94 1272.68L174.85 1272.72L174.82 1273.16L175.69 1273.2L175.71 1274.16L175.16 1274.2L175.13 1274.68L174.9 1274.72L174.88 1275.16L175.07 1275.2L175.05 1275.68L175.51 1275.72L175.49 1276.16L174.65 1276.2L174.63 1276.68L174.75 1276.72L174.74 1277.16L175.32 1277.2L175.31 1277.68L174.56 1277.72L174.54 1278.16L175.85 1278.2L175.84 1278.68L174.52 1278.72L174.51 1279.16L175.14 1279.2L175.11 1279.68L175.41 1279.72L175.39 1280.16L175.61 1280.2L175.58 1280.68L174.45 1280.72L174.43 1281.16L321.92 1281.2L321.92 1282.4L316.19 1282.44L347.21 1282.48L309.48 1282.68L284.44 1282.96L259.93 1283.44L247.15 1283.84L238.71 1284.2L230.64 1284.68L225.47 1285.08L218.48 1285.8L214.21 1286.36L210.58 1287L207.4 1287.76L204.87 1288.56L201.52 1289.88L199.91 1290.68L198.3 1291.68L198.57 1291.72L197.28 1292.68L197.33 1292.72L196.41 1293.68L195.85 1293.72L195.43 1294.16L195.57 1294.2L195.17 1294.68L194.87 1294.72L193.91 1295.68L194.07 1295.72L193.7 1296.16L193.59 1296.2L193.22 1296.68L193.02 1296.76L192.73 1297.16L192.8 1297.2L192.49 1297.68L192.98 1297.72L192.74 1298.16L192.62 1298.2L192.38 1298.68L192.42 1298.72L192.22 1299.16L192.04 1299.2L191.86 1299.68L191.39 1299.72L191.23 1300.16L191.68 1300.2L191.52 1300.68L191.03 1300.72L190.89 1301.16L191.63 1301.2L191.38 1302.16L190.68 1302.2L190.56 1302.68L190.88 1302.72L190.45 1304.16L190.73 1304.2L190.61 1305.16L190.01 1305.2L189.88 1305.72L189.72 1306.68L189.8 1306.72L189.71 1307.16L190.48 1307.2L190.39 1307.68L189.61 1307.72L189.53 1308.16L190.84 1308.2L190.77 1308.68L189.67 1308.72L189.6 1309.16L190.64 1309.2L190.57 1309.68L190.25 1309.72L190.19 1310.16L189.18 1310.2L189.17 1310.32L189.12 1310.68L189.32 1310.72L189.27 1311.16L189.46 1311.2L189.4 1311.68L189.56 1311.72L189.51 1312.16L188.94 1312.2L188.89 1312.68L189.55 1312.72L189.51 1313.16L188.86 1313.2L188.81 1313.68L189.75 1313.72L189.71 1314.16L188.95 1314.2L188.91 1314.68L189.45 1314.72L189.42 1315.16L189.75 1315.2L189.72 1315.68L188.76 1315.72L188.73 1316.16L188.91 1316.2L188.88 1316.68L188.47 1316.72L188.44 1317.16L189.72 1317.2L189.7 1317.68L188.99 1317.72L188.96 1318.16L189.04 1318.2L189.01 1318.68L189.71 1318.72L189.69 1319.16L188.96 1319.2L188.94 1319.68L188.43 1319.72L188.41 1320.16L188.29 1320.2L188.27 1320.68L188.81 1320.72L188.77 1321.16L189.77 1321.2L189.73 1321.68L188.2 1321.72L188.1 1322.68L188.1 1323.16L188.17 1323.2L188.14 1323.68L188.03 1323.72L188 1324.16L188.96 1324.2L188.94 1324.68L188.27 1324.72L188.24 1325.16L188.12 1325.2L188.1 1325.68L189.39 1325.72L189.37 1326.16L188.66 1326.2L188.64 1326.68L188.24 1326.72L188.22 1327.16L188.76 1327.2L188.74 1327.68L187.89 1327.72L187.88 1328.16L188.56 1328.2L188.54 1328.68L189.02 1328.72L189.01 1329.16L187.86 1329.2L187.83 1330.16L189 1330.2L188.99 1330.68L187.86 1330.72L187.85 1331.16L188.04 1331.2L188.03 1331.68L187.78 1331.76L187.77 1332.16L188.19 1332.2L188.18 1332.68L187.94 1332.72L187.93 1333.16L188.68 1333.2L188.68 1333.68L189.12 1333.72L189.12 1334.16L187.93 1334.2L187.92 1334.68L187.75 1334.72L187.74 1335.16L188.25 1335.2L188.24 1335.68L189.17 1335.72L189.17 1336.16L188 1336.2L187.99 1336.68L189.03 1336.72L189.03 1337.16L188.65 1337.2L188.64 1337.68L188.18 1337.72L188.18 1338.16L187.91 1338.2L187.83 1339.16L187.69 1339.2L187.68 1339.68L187.93 1339.72L187.92 1340.16L187.61 1340.2L187.65 1341.16L188.62 1341.2L188.62 1341.68L187.6 1341.72L187.6 1342.68L189.01 1342.72L189 1343.16L188.83 1343.2L188.83 1343.68L188.2 1343.72L188.2 1344.16L187.62 1344.2L187.62 1344.68L188.22 1344.72L188.21 1345.16L188.11 1345.2L188.11 1345.68L187.63 1345.72L187.62 1346.16L188.11 1346.2L188.11 1346.68L189 1346.72L189 1347.16L187.91 1347.2L187.9 1347.68L188.84 1347.72L188.84 1348.16L188.79 1348.2L188.79 1348.68L187.87 1348.72L187.91 1349.68L187.75 1349.72L187.75 1350.16L188.27 1350.2L188.27 1350.68L188.46 1350.72L188.46 1351.16L188.89 1351.2L188.89 1351.68L187.62 1351.72L187.62 1352.16L188.09 1352.2L188.09 1352.68L188.67 1352.72L188.67 1353.16L187.71 1353.2L187.71 1353.68L342.19 1353.72L342.19 1354.92L383.99 1354.96L346.42 1355.12L321.89 1355.32L304.66 1355.56L282.28 1356.04L266.3 1356.6L255.18 1357.2L249.68 1357.6L245.3 1358L239.14 1358.72L235.72 1359.2L232.76 1359.72L230.21 1360.28L227.75 1360.96L225.67 1361.68L222.59 1363L221.07 1363.76L219.4 1364.8L217.66 1366.16L216.64 1367.16L217.04 1367.2L216.63 1367.68L216.18 1367.72L215.82 1368.16L216.28 1368.2L215.51 1369.16L214.99 1369.2L214.57 1369.68L214.66 1369.72L214.31 1370.16L214.03 1370.2L213.37 1371.16L213.56 1371.2L213.27 1371.68L213.06 1371.72L212.81 1372.16L212.69 1372.2L212.44 1372.68L213.36 1372.72L213.17 1373.16L212.34 1373.2L212.13 1373.68L211.97 1373.72L211.63 1374.68L211.67 1374.72L211.53 1375.16L211.44 1375.2L211.02 1376.68L211.56 1376.72L211.46 1377.16L210.93 1377.2L210.82 1377.68L212.01 1377.72L211.93 1378.16L211.03 1378.2L210.94 1378.68L210.79 1378.72L210.44 1380.16L211.23 1380.2L211.16 1380.68L210.85 1380.72L210.78 1381.16L211.16 1381.2L211.1 1381.68L210.44 1381.72L210.39 1382.08L358.3 1382.12L358.3 1383.32L436.93 1383.36L384.05 1383.56L350.17 1383.84L325.63 1384.24L300.85 1384.96L292.75 1385.32L281.11 1385.96L274.22 1386.48L267.73 1387.12L261.71 1387.88L255.56 1388.92L251.65 1389.72L248.32 1390.6L246.59 1391.16L245 1391.76L243.54 1392.4L242.11 1393.12L240.88 1393.84L238.39 1395.44L237.47 1396.12L236.88 1396.68L236.73 1396.72L236.19 1397.2L235.69 1397.68L235.84 1397.72L235.45 1398.16L235.19 1398.2L233.55 1400.16L233.88 1400.2L233.55 1400.68L233.36 1400.72L233.07 1401.16L233.14 1401.2L232.85 1401.68L232.52 1401.72L232.25 1402.16L232.12 1402.2L231.3 1403.68L231.62 1403.72L231.49 1404L231.39 1404.16L231.22 1404.2L230.56 1405.16L231.05 1405.2L230.81 1405.68L230.26 1405.72L230.04 1406.16L230.3 1406.2L230.08 1406.68L229.67 1406.72L229.22 1407.6L229.18 1407.68L229.91 1407.72L229.75 1408.16L229.24 1408.2L229.06 1408.68L228.81 1408.72L228.66 1409.16L229.56 1409.2L229.41 1409.68L228.47 1409.72L228.33 1410.16L229.32 1410.2L229.19 1410.68L228.11 1410.72L227.98 1411.16L228.71 1411.2L228.6 1411.68L227.89 1411.72L227.64 1412.68L228.1 1412.72L227.86 1413.68L227.94 1413.72L227.86 1414.16L227.45 1414.2L227.36 1414.68L227.8 1414.72L227.73 1415.16L227.46 1415.2L227.38 1415.68L227.07 1415.72L227 1416.16L227.34 1416.2L227.27 1416.68L227.43 1416.72L227.37 1417.16L228.02 1417.2L227.96 1417.68L226.75 1417.72L226.69 1418.16L226.92 1418.2L226.86 1418.68L226.62 1418.72L226.56 1419.16L226.75 1419.2L226.69 1419.68L226.49 1419.72L226.45 1420.12L226.65 1420.2L226.59 1420.68L227.15 1420.72L227.1 1421.16L226.37 1421.2L226.32 1421.68L226.7 1421.72L226.66 1422.16L226.24 1422.2L226.05 1423.68L226.61 1423.72L226.56 1424.16L226.97 1424.2L226.91 1424.68L226.99 1424.72L226.95 1425.16L226.61 1425.2L226.56 1425.68L226.25 1425.72L226.21 1426.16L226.81 1426.2L226.76 1426.68L225.71 1426.72L225.61 1428.16L225.86 1428.2L225.82 1428.68L225.59 1428.72L225.55 1429.16L226.41 1429.2L226.37 1429.68L226.61 1429.72L226.58 1430.16L225.42 1430.2L225.39 1430.68L226.61 1430.72L226.58 1431.16L225.79 1431.2L225.76 1431.68L225.36 1431.72L225.33 1432.16L225.44 1432.2L225.41 1432.68L225.46 1432.72L225.32 1433.68L225.76 1433.72L225.73 1434.16L225.15 1434.2L225.12 1434.68L226.62 1434.72L226.6 1435.16L225.54 1435.2L225.52 1435.68L225.6 1435.72L225.55 1436.68L225.25 1436.72L225.23 1437.16L225.67 1437.2L225.65 1437.68L226.36 1437.72L226.34 1438.16L225.13 1438.2L225.11 1438.68L225.34 1438.72L225.32 1439.16L226.27 1439.2L226.25 1439.68L225.41 1439.72L225.39 1440.16L225.72 1440.2L225.7 1440.68L224.9 1440.72L224.89 1441.16L225.22 1441.2L225.21 1441.68L225.01 1441.72L224.9 1442.68L226.19 1442.72L226.18 1443.16L225.07 1443.2L225.05 1443.68L224.77 1443.72L224.75 1444.16L224.89 1444.2L224.87 1444.68L224.99 1444.72L224.97 1445.16L224.77 1445.2L224.64 1446.68L225.52 1446.72L225.44 1447.44L389.89 1447.48L389.89 1448.64L386.94 1448.68L411.69 1448.72L369.14 1448.96L334.19 1449.44L318.13 1449.84L308.91 1450.16L299.32 1450.64L292.03 1451.16L284.53 1451.88L279.15 1452.64L276.88 1453.08L274.85 1453.56L273.17 1454.04L270.49 1454.92L268.48 1455.72L267.49 1456.2L266.64 1456.68L266.89 1456.72L266.24 1457.16L265.76 1457.2L265.02 1457.68L265.25 1457.72L264.69 1458.16L264.72 1458.2L264.2 1458.68L264 1458.72L263.55 1459.16L263.27 1459.2L262.74 1459.68L262.82 1459.72L262.33 1460.16L262.15 1460.2L261.67 1460.68L261.51 1460.72L261.11 1461.16L261.22 1461.2L260.84 1461.68L261.65 1461.72L261.62 1461.76L411.56 1461.8L411.56 1463L405.83 1463.04L581 1463.08L508.83 1463.36L458.2 1463.68L413.23 1464.16L388.78 1464.56L362.54 1465.24L339.76 1466.2L331.84 1466.68L325.28 1467.2L319.45 1467.8L314.08 1468.52L308.66 1469.36L304.85 1470.08L301.5 1470.88L297.38 1472.08L294.97 1472.96L290.03 1475.08L289.87 1475.16L289.92 1475.2L289.12 1475.68L288.84 1475.72L288.12 1476.16L288.25 1476.2L286.94 1477.16L286.62 1477.2L286.06 1477.68L286.11 1477.72L285.69 1478.16L286.18 1478.2L285.81 1478.68L285.52 1478.72L285.19 1479.16L284.97 1479.2L284.63 1479.68L284.48 1479.72L284.18 1480.16L283.96 1480.2L283.65 1480.68L284.17 1480.72L283.92 1481.16L283.39 1481.2L283.12 1481.68L283.96 1481.72L283.76 1482.16L282.81 1482.2L282.37 1483.16L282.5 1483.2L282.31 1483.68L282.36 1483.72L282.33 1483.8L282.14 1484.16L281.88 1484.2L281.63 1484.68L282.08 1484.72L281.88 1485.16L281.96 1485.2L281.76 1485.68L281.2 1485.72L281.02 1486.16L281.36 1486.2L281.19 1486.68L280.8 1486.72L280.64 1487.16L280.69 1487.2L280.53 1487.68L280.87 1487.72L280.74 1488.16L281.44 1488.2L281.32 1488.68L280.18 1488.72L279.97 1489.68L279.9 1489.72L279.8 1490.16L279.94 1490.2L279.83 1490.68L279.97 1490.72L279.88 1491.16L279.7 1491.2L279.61 1491.68L280.5 1491.72L280.43 1492.16L280.05 1492.2L279.97 1492.68L280.05 1492.72L279.98 1493.16L280.52 1493.2L280.45 1493.68L280.25 1493.72L280.2 1494.16L279.6 1494.2L279.54 1494.68L279.02 1494.72L278.88 1495.68L279.08 1495.72L279.03 1496.16L278.86 1496.2L278.62 1497.16L279.2 1497.2L279.11 1497.68L278.8 1497.72L278.73 1498.16L278.83 1498.2L278.75 1498.68L278.34 1498.72L278.21 1499.68L278.49 1499.72L278.44 1500.16L279.6 1500.2L279.55 1500.68L278.23 1500.72L278.19 1501.16L278.09 1501.2L278.04 1501.68L278.36 1501.72L278.32 1502.16L279.09 1502.2L279.05 1502.68L278.46 1502.72L278.43 1503.68L278.72 1503.72L278.69 1504.16L279.32 1504.2L279.29 1504.68L278.14 1504.72L278.12 1505.16L277.92 1505.2L277.89 1505.68L277.7 1505.72L277.68 1506.16L278.79 1506.2L278.77 1506.68L278.36 1506.72L278.34 1507.16L277.59 1507.2L277.54 1508.16L278.36 1508.2L278.34 1508.68L278.73 1508.72L278.71 1509.16L277.69 1509.2L277.69 1509.28L424.25 1509.32L424.25 1510.52L629.86 1510.56L525.77 1510.84L479.11 1511.12L447.19 1511.4L416.06 1511.8L395.1 1512.2L374.64 1512.76L355.21 1513.56L477.76 1513.6L478.18 1514.8L472.48 1514.84L604.43 1514.88L528.21 1515.16L492.33 1515.44L470.76 1515.68L445.77 1516.08L430.33 1516.44L414.72 1516.96L401.17 1517.64L395.41 1518L390.84 1518.36L386.81 1518.76L383.35 1519.2L380.63 1519.64L378.49 1520.08L374.42 1521.08L372.28 1521.8L371.03 1522.48L370.55 1522.88L370.06 1523.4L369.89 1523.72L369.86 1524.04L369.97 1524.36L370.18 1524.64L370.51 1524.92L371.89 1525.84L373.01 1526.36L375.1 1526.96L377.89 1527.48L118.00 1527.48Z" fill="#008000"/>
<path d="M117.75 856.3V1528.5" stroke="#000" stroke-width="2.3" fill="none"/>
<path d="M117 857.40H124.7M117 913.25H129.9M117 969.10H124.7M117 1024.95H129.9M117 1080.80H124.7M117 1136.65H129.9M117 1192.50H124.7M117 1248.35H129.9M117 1304.20H124.7M117 1360.05H129.9M117 1415.90H124.7M117 1471.75H129.9M117 1527.60H124.7" stroke="#000" stroke-width="2.1" fill="none"/>
</g>
<path d="M113.80 260.55H880.60" stroke="#ff0000" stroke-width="7.2" stroke-linecap="round" stroke-dasharray="24.60 37.25" fill="none"/>
<path d="M119.80 438.30H886.60" stroke="#ff0000" stroke-width="7.2" stroke-linecap="round" stroke-dasharray="24.60 37.25" fill="none"/>
<path d="M119.80 1061.35H886.60" stroke="#ff0000" stroke-width="7.2" stroke-linecap="round" stroke-dasharray="24.60 37.25" fill="none"/>
<path d="M135.60 1241.80H902.40" stroke="#ff0000" stroke-width="7.2" stroke-linecap="round" stroke-dasharray="24.60 37.25" fill="none"/>
<path d="M678.8 269.7V325.2" stroke="#000" stroke-width="0.9" stroke-opacity="0.75" fill="none"/><path d="M678.8 254.4L674.8 269.7L682.8 269.7Z" fill="#000"/>
<path d="M678.8 421.0V362.0" stroke="#000" stroke-width="0.9" stroke-opacity="0.75" fill="none"/><path d="M678.8 435.8L674.8 421.0L682.8 421.0Z" fill="#000"/>
<path d="M694.9 1082.7V1138.8" stroke="#000" stroke-width="0.9" stroke-opacity="0.75" fill="none"/><path d="M694.9 1068.1L690.9 1082.7L698.9 1082.7Z" fill="#000"/>
<path d="M698.3 1216.5V1157.0" stroke="#000" stroke-width="0.9" stroke-opacity="0.75" fill="none"/><path d="M698.3 1230.8L694.3 1216.5L702.3 1216.5Z" fill="#000"/>
<text x="128.5" y="21.3" font-family="Liberation Sans, Arial, Helvetica, sans-serif" font-size="38.0" font-weight="bold" fill="#000" text-anchor="start" >a</text>
<text x="116.3" y="828.7" font-family="Liberation Sans, Arial, Helvetica, sans-serif" font-size="39.5" font-weight="bold" fill="#000" text-anchor="start" >b</text>
<text x="104.6" y="119.2" font-family="Liberation Sans, Arial, Helvetica, sans-serif" font-size="36.5" font-weight="normal" fill="#000" text-anchor="end" >-2</text>
<text x="104.6" y="923.3" font-family="Liberation Sans, Arial, Helvetica, sans-serif" font-size="36.5" font-weight="normal" fill="#000" text-anchor="end" >-2</text>
<text x="104.6" y="230.9" font-family="Liberation Sans, Arial, Helvetica, sans-serif" font-size="36.5" font-weight="normal" fill="#000" text-anchor="end" >-3</text>
<text x="104.6" y="1035.0" font-family="Liberation Sans, Arial, Helvetica, sans-serif" font-size="36.5" font-weight="normal" fill="#000" text-anchor="end" >-3</text>
<text x="104.6" y="342.6" font-family="Liberation Sans, Arial, Helvetica, sans-serif" font-size="36.5" font-weight="normal" fill="#000" text-anchor="end" >-4</text>
<text x="104.6" y="1146.7" font-family="Liberation Sans, Arial, Helvetica, sans-serif" font-size="36.5" font-weight="normal" fill="#000" text-anchor="end" >-4</text>
<text x="104.6" y="454.3" font-family="Liberation Sans, Arial, Helvetica, sans-serif" font-size="36.5" font-weight="normal" fill="#000" text-anchor="end" >-5</text>
<text x="104.6" y="1258.4" font-family="Liberation Sans, Arial, Helvetica, sans-serif" font-size="36.5" font-weight="normal" fill="#000" text-anchor="end" >-5</text>
<text x="104.6" y="566.0" font-family="Liberation Sans, Arial, Helvetica, sans-serif" font-size="36.5" font-weight="normal" fill="#000" text-anchor="end" >-6</text>
<text x="104.6" y="1370.1" font-family="Liberation Sans, Arial, Helvetica, sans-serif" font-size="36.5" font-weight="normal" fill="#000" text-anchor="end" >-6</text>
<text x="104.6" y="677.7" font-family="Liberation Sans, Arial, Helvetica, sans-serif" font-size="36.5" font-weight="normal" fill="#000" text-anchor="end" >-7</text>
<text x="104.6" y="1481.8" font-family="Liberation Sans, Arial, Helvetica, sans-serif" font-size="36.5" font-weight="normal" fill="#000" text-anchor="end" >-7</text>
<text transform="translate(26.8 640.2) rotate(-90)" font-family="Liberation Sans, Arial, Helvetica, sans-serif" font-size="36.5" font-weight="bold" fill="#000" textLength="536.5" lengthAdjust="spacingAndGlyphs">Energy (eV) relative to vacuum</text>
<text transform="translate(31.6 1430.9) rotate(-90)" font-family="Liberation Sans, Arial, Helvetica, sans-serif" font-size="36.5" font-weight="bold" fill="#000" textLength="536.5" lengthAdjust="spacingAndGlyphs">Energy (eV) relative to vacuum</text>
<text transform="translate(879.00 77.20) scale(1 1.040)" font-family="Liberation Sans, Arial, Helvetica, sans-serif" font-size="34.0" font-weight="bold" fill="#000">LUMO</text>
<text transform="translate(820.50 705.00) scale(1 1.040)" font-family="Liberation Sans, Arial, Helvetica, sans-serif" font-size="34.0" font-weight="bold" fill="#000">HOMO</text>
<text transform="translate(901.40 888.00) scale(1 1.040)" font-family="Liberation Sans, Arial, Helvetica, sans-serif" font-size="34.0" font-weight="bold" fill="#000">LUMO</text>
<text transform="translate(894.90 1527.70) scale(1 1.040)" font-family="Liberation Sans, Arial, Helvetica, sans-serif" font-size="34.0" font-weight="bold" fill="#000">HOMO</text>
<text x="521.5" y="368.0" font-family="Liberation Sans, Arial, Helvetica, sans-serif" font-size="34.0" font-weight="bold" fill="#000" text-anchor="start" >1.54 eV</text>
<text x="542.3" y="1160.0" font-family="Liberation Sans, Arial, Helvetica, sans-serif" font-size="34.0" font-weight="bold" fill="#000" text-anchor="start" >1.54 eV</text>
<text transform="translate(696.80 368.50) scale(1 1.04)" font-family="Liberation Sans, Arial, Helvetica, sans-serif" font-size="36.5" font-weight="bold" fill="#008000">PANI</text><text x="783.50" y="351.90" font-family="Liberation Sans, Arial, Helvetica, sans-serif" font-size="23.5" font-weight="bold" fill="#008000">+</text><text transform="translate(796.90 368.50) scale(1 1.04)" font-family="Liberation Sans, Arial, Helvetica, sans-serif" font-size="36.5" font-weight="bold" fill="#008000">Cl</text><text x="834.10" y="350.50" font-family="Liberation Sans, Arial, Helvetica, sans-serif" font-size="22" font-weight="bold" fill="#000">-</text>
<text transform="translate(722.00 1158.50) scale(1 1.04)" font-family="Liberation Sans, Arial, Helvetica, sans-serif" font-size="36.5" font-weight="bold" fill="#008000">PANI</text><text x="808.70" y="1141.90" font-family="Liberation Sans, Arial, Helvetica, sans-serif" font-size="23.5" font-weight="bold" fill="#008000">+</text><text transform="translate(822.10 1158.50) scale(1 1.04)" font-family="Liberation Sans, Arial, Helvetica, sans-serif" font-size="36.5" font-weight="bold" fill="#008000">Cl</text><text x="859.30" y="1140.50" font-family="Liberation Sans, Arial, Helvetica, sans-serif" font-size="22" font-weight="bold" fill="#000">-</text>
<text x="373.0" y="822.9" font-family="Liberation Sans, Arial, Helvetica, sans-serif" font-size="36.5" font-weight="bold" fill="#000" text-anchor="start" textLength="272.5" lengthAdjust="spacingAndGlyphs">(14,5) S-SWNTs</text>
<text x="397.2" y="1594.4" font-family="Liberation Sans, Arial, Helvetica, sans-serif" font-size="36.5" font-weight="bold" fill="#000" text-anchor="start" textLength="278.5" lengthAdjust="spacingAndGlyphs">(10,8) M-SWNTs</text>
</svg>
</body></html>
